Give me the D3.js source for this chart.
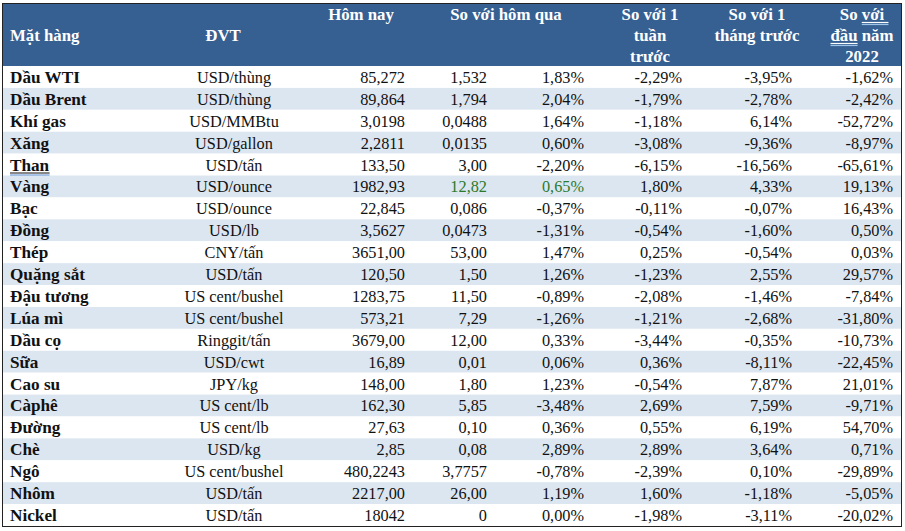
<!DOCTYPE html>
<html><head><meta charset="utf-8">
<script src="https://cdn.jsdelivr.net/npm/d3@7"></script>
<style>body{margin:0;background:#fff}</style></head>
<body><svg id="c" width="905" height="531"></svg>
<script>
const items = ["Dầu WTI","Dầu Brent","Khí gas","Xăng","Than","Vàng","Bạc","Đồng","Thép","Quặng sắt","Đậu tương","Lúa mì","Dầu cọ","Sữa","Cao su","Càphê","Đường","Chè","Ngô","Nhôm","Nickel"];
const units = ["USD/thùng","USD/thùng","USD/MMBtu","USD/gallon","USD/tấn","USD/ounce","USD/ounce","USD/lb","CNY/tấn","USD/tấn","US cent/bushel","US cent/bushel","Ringgit/tấn","USD/cwt","JPY/kg","US cent/lb","US cent/lb","USD/kg","US cent/bushel","USD/tấn","USD/tấn"];
const today = ["85,272","89,864","3,0198","2,2811","133,50","1982,93","22,845","3,5627","3651,00","120,50","1283,75","573,21","3679,00","16,89","148,00","162,30","27,63","2,85","480,2243","2217,00","18042"];
const dayAbs = ["1,532","1,794","0,0488","0,0135","3,00","12,82","0,086","0,0473","53,00","1,50","11,50","7,29","12,00","0,01","1,80","5,85","0,10","0,08","3,7757","26,00","0"];
const dayPct = ["1,83%","2,04%","1,64%","0,60%","-2,20%","0,65%","-0,37%","-1,31%","1,47%","1,26%","-0,89%","-1,26%","0,33%","0,06%","1,23%","-3,48%","0,36%","2,89%","-0,78%","1,19%","0,00%"];
const weekPct = ["-2,29%","-1,79%","-1,18%","-3,08%","-6,15%","1,80%","-0,11%","-0,54%","0,25%","-1,23%","-2,08%","-1,21%","-3,44%","0,36%","-0,54%","2,69%","0,55%","2,89%","-2,39%","1,60%","-1,98%"];
const monthPct = ["-3,95%","-2,78%","6,14%","-9,36%","-16,56%","4,33%","-0,07%","-1,60%","-0,54%","2,55%","-1,46%","-2,68%","-0,35%","-8,11%","7,87%","7,59%","6,19%","3,64%","0,10%","-1,18%","-3,11%"];
const yearPct = ["-1,62%","-2,42%","-52,72%","-8,97%","-65,61%","19,13%","16,43%","0,50%","0,03%","29,57%","-7,84%","-31,80%","-10,73%","-22,45%","21,01%","-9,71%","54,70%","0,71%","-29,89%","-5,05%","-20,02%"];
const greenRows = ["Vàng"];
const linkedRows = ["Than"];

const svg = d3.select("#c");
const font = "'Liberation Serif','Times New Roman',serif";
const L = 2, R = 902, headTop = 3, headBot = 66, bottom = 526;
const y = d3.scaleBand().domain(d3.range(items.length)).range([headBot, bottom]);

function dblUnderline(g, node, y0, c1, c2, extra) {
  const b = node.getBBox();
  g.append("line").attr("x1", b.x).attr("x2", b.x + b.width + (extra || 0)).attr("y1", y0 + 2.5).attr("y2", y0 + 2.5).attr("stroke", c1).attr("stroke-width", 1.2);
  g.append("line").attr("x1", b.x).attr("x2", b.x + b.width + (extra || 0)).attr("y1", y0 + 4.5).attr("y2", y0 + 4.5).attr("stroke", c2).attr("stroke-width", 1.2);
}

// header
svg.append("rect").attr("x", L).attr("y", headTop).attr("width", R - L).attr("height", headBot - headTop).attr("fill", "#366092");

// row bands
svg.selectAll("rect.band").data(d3.range(items.length)).join("rect")
  .attr("x", L).attr("y", i => y(i)).attr("width", R - L).attr("height", y.bandwidth())
  .attr("fill", i => i % 2 ? "#dce6f1" : "#ffffff");

// border
svg.append("rect").attr("x", L + 0.5).attr("y", headTop + 0.5).attr("width", R - L - 1).attr("height", bottom - headTop)
  .attr("fill", "none").attr("stroke", "#222").attr("stroke-width", 1);

// header text
const H = svg.append("g").attr("font-family", font).attr("font-weight", "bold").attr("font-size", 16.8).attr("fill", "#fff");
const headers = [
  {x: 10, a: "start", lines: ["Mặt hàng"], y0: 41},
  {x: 223, a: "middle", lines: ["ĐVT"], y0: 41},
  {x: 361, a: "middle", lines: ["Hôm nay"], y0: 20},
  {x: 506, a: "middle", lines: ["So với hôm qua"], y0: 20},
  {x: 650, a: "middle", lines: ["So với 1", "tuần", "trước"], y0: 20},
  {x: 757, a: "middle", lines: ["So với 1", "tháng trước"], y0: 20}
];
headers.forEach(h => {
  h.lines.forEach((ln, k) => {
    H.append("text").attr("x", h.x).attr("y", h.y0 + k * 21).attr("text-anchor", h.a).text(ln);
  });
});
// last header with underlined words
const hx = 862;
const t1 = H.append("text").attr("x", hx).attr("y", 20).attr("text-anchor", "middle");
t1.append("tspan").text("So ");
const u1 = t1.append("tspan").text("với");
const t2 = H.append("text").attr("x", hx).attr("y", 41).attr("text-anchor", "middle");
const u2 = t2.append("tspan").text("đầu");
t2.append("tspan").text(" năm");
H.append("text").attr("x", hx).attr("y", 62).attr("text-anchor", "middle").text("2022");
dblUnderline(H, u1.node(), 20, "#ffffff", "#9dc3e6", 4);
dblUnderline(H, u2.node(), 41, "#ffffff", "#9dc3e6", 0);

// body
const B = svg.append("g").attr("font-family", font);
const cols = [
  {arr: items, x: 10, a: "start", bold: true},
  {arr: units, x: 234, a: "middle"},
  {arr: today, x: 405, a: "end"},
  {arr: dayAbs, x: 487, a: "end", green: true},
  {arr: dayPct, x: 584, a: "end", green: true},
  {arr: weekPct, x: 682, a: "end"},
  {arr: monthPct, x: 792, a: "end"},
  {arr: yearPct, x: 893, a: "end"}
];
cols.forEach(c => {
  const sel = B.selectAll(null).data(c.arr).join("text")
    .attr("x", c.x).attr("y", (d, i) => y(i) + y.bandwidth() - 5)
    .attr("text-anchor", c.a)
    .attr("font-size", c.bold ? 17.2 : 16.3)
    .attr("font-weight", c.bold ? "bold" : "normal")
    .attr("fill", (d, i) => c.green && greenRows.includes(items[i]) ? "#2b7a2b" : "#111")
    .text(d => d);
  if (c.bold) {
    sel.each(function(d, i) {
      if (linkedRows.includes(d)) dblUnderline(B, this, y(i) + y.bandwidth() - 5, "#111", "#5b8bd0", 0);
    });
  }
});
</script></body></html>
